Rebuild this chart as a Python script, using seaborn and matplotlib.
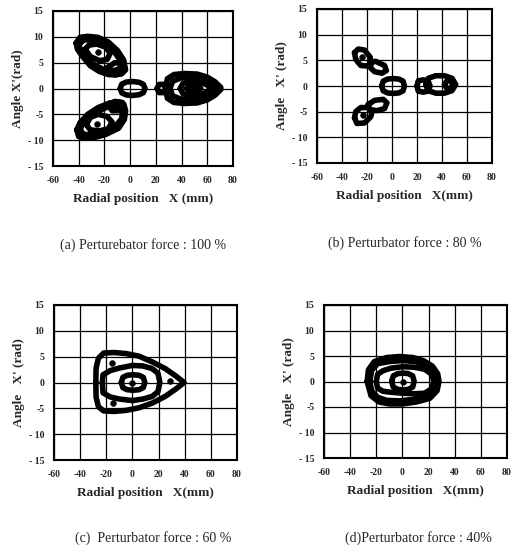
import matplotlib
matplotlib.use("Agg")
import matplotlib.pyplot as plt
import seaborn as sns
import pandas as pd

# ---- orbit vertices (x in mm, x' in rad) ----
# (a) perturbator force 100 %
a_center = [(-7.7, 0), (-6.5, 0.85), (-3, 1.25), (2, 1.35), (7, 1.2), (10.3, 0.8), (11.6, 0),
            (10.3, -0.8), (7, -1.2), (2, -1.35), (-3, -1.25), (-6.5, -0.85)]
a_right_outer = [(27.5, 0), (29, 1.9), (34, 2.7), (42, 2.9), (52, 2.8), (60, 2.2), (66, 1.3),
                 (70.5, 0.2), (70.5, -0.2), (66, -1.3), (60, -2.2), (52, -2.8), (42, -2.9),
                 (34, -2.7), (29, -1.9)]
a_right_mid = [(31, 0), (33, 1.4), (40, 2.1), (50, 2.1), (58, 1.6), (64, 0.8), (67, 0),
               (64, -0.8), (58, -1.6), (50, -2.1), (40, -2.1), (33, -1.4)]
a_right_inner = [(39, 0), (41, 1), (47, 1.3), (54, 1.2), (60, 0.7), (62, 0), (60, -0.7),
                 (54, -1.2), (47, -1.3), (41, -1)]
a_right_core = [(44, 0), (47, 0.6), (52, 0.6), (55, 0), (52, -0.6), (47, -0.6)]
a_right_blob = [(21, 0), (22.5, 0.8), (26, 0.8), (28, 0), (26, -0.8), (22.5, -0.8)]
a_up_outer = [(-42, 8.8), (-39, 9.9), (-33, 10.1), (-25, 9.9), (-17, 9), (-10, 7.4), (-5, 5.5),
              (-4, 4), (-6, 3), (-11, 2.6), (-17, 2.7), (-24, 3.3), (-31, 4.4), (-37, 6.2),
              (-41, 7.6)]
a_up_band = [(-40, 8.5), (-36, 9.4), (-28, 9.4), (-20, 8.6), (-12, 7), (-7, 5.2), (-7, 4),
             (-12, 3.5), (-20, 3.6), (-28, 4.6), (-34, 5.9), (-38, 7.2)]
a_up_inner = [(-35, 7.6), (-32, 8.4), (-26, 8.6), (-19, 8), (-15.5, 6.8), (-18, 5.6),
              (-24, 5.4), (-31, 6.2)]
a_up_blob = [(-18, 4), (-12, 5), (-5, 4.8), (-3.5, 3.6), (-7, 2.8), (-14, 2.9)]
a_low_outer = [(-41.5, -8), (-40, -9.3), (-35, -9.6), (-28, -9.5), (-19, -8.9), (-9, -7.7),
               (-4.5, -6), (-3.5, -4.3), (-5, -3), (-9, -2.6), (-16, -2.8), (-25, -3.7),
               (-33, -5), (-39, -6.6)]
a_low_band = [(-39, -8), (-36, -8.9), (-28, -8.9), (-20, -8.3), (-11, -7.2), (-6.5, -5.8),
              (-6, -4.4), (-10, -3.4), (-17, -3.5), (-25, -4.4), (-32, -5.6), (-37, -6.9)]
a_low_inner = [(-34, -7), (-31, -5.6), (-25, -5), (-18, -5.4), (-14, -6.5), (-17, -7.8),
               (-24, -8.2), (-31, -8)]
a_low_blob = [(-17, -3.2), (-12, -2.5), (-6, -2.7), (-4.5, -3.6), (-8, -4.3), (-14, -4.3)]
a_dots = [(50, 0), (-25, 7), (-26, -6.8)]

# (b) perturbator force 80 %
b_center = [(-8.3, 0), (-7, 0.95), (-3.5, 1.35), (1, 1.45), (5.5, 1.35), (8.8, 0.95), (10, 0),
            (8.8, -0.95), (5.5, -1.35), (1, -1.45), (-3.5, -1.35), (-7, -0.95)]
b_right1 = [(20, 0), (21, 1), (25, 1.2), (29, 0.9), (30.5, 0), (29, -1), (25, -1.2), (21, -1)]
b_right2 = [(27, 0.2), (29, 1.5), (35, 2), (42, 2), (48, 1.5), (51, 0.3), (48, -0.9),
            (42, -1.4), (35, -1.4), (29, -0.9)]
b_right3 = [(42, 0.3), (44, 1), (47, 1), (48.5, 0.3), (47, -0.5), (44, -0.5)]
b_up1 = [(-30, 6.5), (-27, 7.2), (-22, 7), (-17.5, 5.6), (-16.5, 4.5), (-20, 3.9),
         (-25, 4), (-29, 5.2)]
b_up2 = [(-17, 4.6), (-13, 4.8), (-6, 4), (-4.5, 3), (-8, 2.5), (-14, 2.8), (-17, 3.5)]
b_low1 = [(-30, -6.2), (-28, -7.3), (-22, -7.2), (-17, -6), (-16, -5), (-19, -4.2),
          (-25, -4.2), (-29, -5)]
b_low2 = [(-19, -3.6), (-14, -2.8), (-7, -2.6), (-4, -3.3), (-6, -4.4), (-12, -4.8), (-18, -4.6)]
b_dots = [(-24, 5.6), (-23.5, -5.7)]

# (c) perturbator force 60 %
c_outer = [(-28, 0), (-27.8, 2.8), (-26, 4.7), (-22, 5.7), (-14, 5.8), (-5, 5.6), (5, 5.1),
           (15, 4), (25, 2.7), (33, 1.3), (39.5, 0), (33, -1.3), (25, -2.7), (15, -4),
           (5, -4.9), (-5, -5.4), (-14, -5.6), (-22, -5.5), (-26, -4.7), (-27.8, -2.8)]
c_inner = [(-23, 0), (-22.5, 1.5), (-17, 2.3), (-10, 2.8), (0, 3.3), (8, 3.2), (15, 2.7),
           (19.5, 1.8), (21, 0), (19.5, -1.8), (15, -2.7), (8, -3.2), (0, -3.5), (-10, -3.2),
           (-17, -2.8), (-22.5, -2)]
c_center = [(-8.5, 0), (-7.3, 1), (-4, 1.4), (0.5, 1.5), (5, 1.4), (8.3, 1), (9.5, 0),
            (8.3, -1), (5, -1.4), (0.5, -1.5), (-4, -1.4), (-7.3, -1)]
c_dots = [(-16, 3.7), (-14.6, -4), (28.7, 0.2), (0, 0)]

# (d) perturbator force 40 %
d_outer = [(-27, 0), (-26, 2.3), (-21.5, 3.9), (-12, 4.7), (-2, 4.9), (8, 4.7), (16, 4.1),
           (23, 3), (27, 1.5), (28, 0), (26.5, -1.8), (21, -3.3), (11, -4), (0, -4.4),
           (-10, -4.4), (-18, -4), (-24, -2.8)]
d_band = [(-25, 0), (-23.5, 2.2), (-19, 3.5), (-10, 3.9), (0, 4.1), (10, 3.9), (18, 3.2),
          (23, 2), (25, 0), (23, -1.8), (17, -2.9), (8, -3.5), (-2, -3.8), (-12, -3.7),
          (-19, -3.1), (-23.5, -1.8)]
d_inner = [(-20, 0), (-19, 1.4), (-15, 2.1), (-9, 2.6), (0, 2.9), (9, 2.8), (17, 2.4),
           (22.5, 1.4), (24, 0), (22.5, -1.4), (17, -2.3), (9, -2.4), (0, -2.3), (-9, -2.1),
           (-15, -1.9), (-19, -1.3)]
d_mid = [(-8.2, 0), (-7, 1.1), (-3.5, 1.55), (0.5, 1.65), (4.5, 1.55), (7.8, 1.1), (9, 0),
         (7.8, -1.1), (4.5, -1.55), (0.5, -1.65), (-3.5, -1.55), (-7, -1.1)]
d_dots = [(0.5, 0)]

x_ticks = [-60, -40, -20, 0, 20, 40, 60, 80]
y_ticks = [-15, -10, -5, 0, 5, 10, 15]
y_tick_labels = ["- 15", "- 10", "-5", "0", "5", "10", "15"]

W, H = 511, 551


def loops_frame(loops):
    rows = []
    for i, pts in enumerate(loops):
        closed = list(pts) + [pts[0]]
        for j, (x, y) in enumerate(closed):
            rows.append({"loop": i, "order": j, "x": x, "y": y})
    return pd.DataFrame(rows)


def draw_panel(fig, box, loops, dots, ylabel, xlabel, caption, cap_x, cap_y, lw=4.0):
    left, top, right, bottom = box
    ax = fig.add_axes([left / W, 1 - bottom / H, (right - left) / W, (bottom - top) / H])
    df = loops_frame(loops)
    sns.lineplot(data=df, x="x", y="y", units="loop", estimator=None, sort=False,
                 color="black", lw=lw, ax=ax, legend=False,
                 solid_joinstyle="round", solid_capstyle="round")
    dd = pd.DataFrame(dots, columns=["x", "y"])
    sns.scatterplot(data=dd, x="x", y="y", color="black", s=18, ax=ax, legend=False,
                    edgecolor="black", zorder=4)
    ax.set_xlim(-60, 80)
    ax.set_ylim(-15, 15)
    ax.set_xticks(x_ticks)
    ax.set_xticklabels([str(t) for t in x_ticks])
    ax.set_yticks(y_ticks)
    ax.set_yticklabels(y_tick_labels)
    ax.grid(True, color="black", lw=0.9)
    ax.tick_params(length=0, labelsize=7, pad=7)
    for lab in ax.get_xticklabels() + ax.get_yticklabels():
        lab.set_fontweight("bold")
    for sp in ax.spines.values():
        sp.set_visible(True)
        sp.set_color("black")
        sp.set_linewidth(1.5)
    ax.set_xlabel(xlabel, fontsize=9.5, fontweight="bold", labelpad=6)
    ax.set_ylabel(ylabel, fontsize=9.5, fontweight="bold", labelpad=3)
    fig.text(cap_x / W, 1 - cap_y / H, caption, fontsize=10, ha="center", va="center")
    return ax


sns.set_style("white")
plt.rcParams["font.family"] = ["Liberation Serif", "DejaVu Serif"]
plt.rcParams["axes.unicode_minus"] = False

fig = plt.figure(figsize=(W / 100, H / 100), dpi=100)
fig.patch.set_facecolor("white")

draw_panel(fig, (53, 11, 233, 166),
           [a_center, a_right_outer, a_right_mid, a_right_inner, a_right_core, a_right_blob,
            a_up_outer, a_up_band, a_up_inner, a_up_blob,
            a_low_outer, a_low_band, a_low_inner, a_low_blob],
           a_dots, "Angle X'(rad)", "Radial position   X (mm)",
           "(a) Perturebator force : 100 %", 143, 245)
draw_panel(fig, (317, 9, 492, 163),
           [b_center, b_right1, b_right2, b_right3, b_up1, b_up2, b_low1, b_low2],
           b_dots, "Angle   X' (rad)", "Radial position   X(mm)",
           "(b) Perturbator force : 80 %", 405, 243)
draw_panel(fig, (54, 305, 237, 460),
           [c_outer, c_inner, c_center],
           c_dots, "Angle   X' (rad)", "Radial position   X(mm)",
           "(c)  Perturbator force : 60 %", 153, 538)
draw_panel(fig, (324, 305, 507, 458),
           [d_outer, d_band, d_inner, d_mid],
           d_dots, "Angle   X' (rad)", "Radial position   X(mm)",
           "(d)Perturbator force : 40%", 418, 538)

fig.savefig("out.png", dpi=100, facecolor="white")
